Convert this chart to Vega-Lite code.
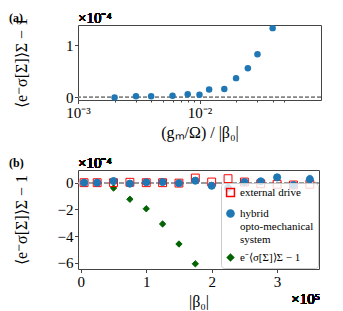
{
  "$schema": "https://vega.github.io/schema/vega-lite/v6.json",
  "background": "white",
  "padding": {"left": 8, "top": 10, "right": 0, "bottom": 0},
  "spacing": 70,
  "bounds": "flush",
  "resolve": {"legend": {"shape": "independent", "fill": "independent", "stroke": "independent", "size": "independent"}},
  "config": {
    "font": "Liberation Serif",
    "view": {"stroke": "#444", "strokeWidth": 1},
    "text": {"font": "Liberation Serif", "fontWeight": "normal"},
    "axis": {"domain": false, "grid": false, "tickColor": "#444", "tickSize": 3.5, "labelFont": "Liberation Serif", "labelFontSize": 15, "labelColor": "black", "labelPadding": 1.5, "titleFont": "Liberation Serif", "titleFontWeight": "normal", "titleColor": "black", "titleFontSize": 16},
    "title": {"font": "Liberation Serif", "fontSize": 12, "fontWeight": "bold", "anchor": "start", "frame": "group", "color": "black"},
    "legend": {"orient": "bottom-right", "offset": 1, "padding": 4, "strokeColor": "#ccc", "fillColor": "rgba(255,255,255,0.8)", "cornerRadius": 3, "labelFont": "Liberation Serif", "labelFontSize": 11, "labelLineHeight": 12, "labelLimit": 200, "rowPadding": 6, "labelOffset": 4, "labelColor": "black"}
  },
  "vconcat": [
    {
      "width": 243,
      "height": 75,
      "title": {"text": "(a)", "dx": -69, "dy": 18, "offset": 4},
      "data": {"values": [
        {"ratio": 0.002, "y": 0.0},
        {"ratio": 0.003, "y": 0.02},
        {"ratio": 0.004, "y": 0.02},
        {"ratio": 0.006, "y": 0.03},
        {"ratio": 0.008, "y": 0.06},
        {"ratio": 0.010, "y": 0.05},
        {"ratio": 0.012, "y": 0.15},
        {"ratio": 0.016, "y": 0.16},
        {"ratio": 0.020, "y": 0.37},
        {"ratio": 0.025, "y": 0.56},
        {"ratio": 0.030, "y": 0.83},
        {"ratio": 0.040, "y": 1.33}
      ]},
      "layer": [
        {
          "mark": {"type": "rule", "color": "#888", "strokeDash": [4, 2], "strokeWidth": 1},
          "encoding": {"y": {"datum": 0, "type": "quantitative"}}
        },
        {
          "mark": {"type": "point", "filled": true, "size": 42, "color": "#1f77b4", "opacity": 1},
          "encoding": {
            "x": {"field": "ratio", "type": "quantitative", "scale": {"type": "log", "domain": [0.001, 0.0515]},
              "axis": {"values": [0.001, 0.002, 0.003, 0.004, 0.005, 0.006, 0.007, 0.008, 0.009, 0.01, 0.02, 0.03, 0.04, 0.05],
                "labelExpr": "datum.value == 0.001 ? '10⁻³' : datum.value == 0.01 ? '10⁻²' : ''",
                "tickSize": {"condition": {"test": "datum.value == 0.001 || datum.value == 0.01", "value": 3.5}, "value": 2},
                "labelFlush": false, "labelOverlap": false},
              "title": "(gₘ/Ω) / |β₀|"},
            "y": {"field": "y", "type": "quantitative", "scale": {"domain": [-0.05, 1.39], "nice": false, "zero": false},
              "axis": {"values": [0, 1], "titleX": -52, "titleBaseline": "alphabetic"},
              "title": "⟨e⁻σ[Σ]⟩Σ − 1"}
          }
        },
        {
          "mark": {"type": "text", "text": "×10⁻⁴", "align": "left", "baseline": "alphabetic", "dy": -2, "fontSize": 15, "font": "Liberation Serif", "fontWeight": "normal"},
          "encoding": {"x": {"datum": 0.001}, "y": {"datum": 1.39}}
        }
      ]
    },
    {
      "width": 241,
      "height": 99,
      "title": {"text": "(b)", "dx": -69, "dy": 18, "offset": 4},
      "data": {"values": [
        {"beta": 0.5, "y": -0.4, "series": "e⁻⟨σ[Σ]⟩Σ − 1"},
        {"beta": 0.75, "y": -1.24, "series": "e⁻⟨σ[Σ]⟩Σ − 1"},
        {"beta": 1.0, "y": -1.95, "series": "e⁻⟨σ[Σ]⟩Σ − 1"},
        {"beta": 1.25, "y": -3.09, "series": "e⁻⟨σ[Σ]⟩Σ − 1"},
        {"beta": 1.5, "y": -4.59, "series": "e⁻⟨σ[Σ]⟩Σ − 1"},
        {"beta": 1.75, "y": -6.07, "series": "e⁻⟨σ[Σ]⟩Σ − 1"},
        {"beta": 0.05, "y": 0.0, "series": "external drive"},
        {"beta": 0.25, "y": 0.0, "series": "external drive"},
        {"beta": 0.5, "y": 0.0, "series": "external drive"},
        {"beta": 0.75, "y": 0.03, "series": "external drive"},
        {"beta": 1.0, "y": 0.0, "series": "external drive"},
        {"beta": 1.25, "y": 0.0, "series": "external drive"},
        {"beta": 1.5, "y": -0.03, "series": "external drive"},
        {"beta": 1.75, "y": 0.35, "series": "external drive"},
        {"beta": 2.0, "y": 0.05, "series": "external drive"},
        {"beta": 2.25, "y": 0.3, "series": "external drive"},
        {"beta": 2.5, "y": 0.05, "series": "external drive"},
        {"beta": 2.75, "y": -0.08, "series": "external drive"},
        {"beta": 3.0, "y": -0.12, "series": "external drive"},
        {"beta": 3.25, "y": -0.17, "series": "external drive"},
        {"beta": 3.5, "y": -0.12, "series": "external drive"},
        {"beta": 0.05, "y": 0.0, "err": 0.03, "series": "hybrid opto-mechanical system"},
        {"beta": 0.25, "y": 0.0, "err": 0.03, "series": "hybrid opto-mechanical system"},
        {"beta": 0.5, "y": 0.12, "err": 0.05, "series": "hybrid opto-mechanical system"},
        {"beta": 0.75, "y": -0.07, "err": 0.05, "series": "hybrid opto-mechanical system"},
        {"beta": 1.0, "y": 0.03, "err": 0.05, "series": "hybrid opto-mechanical system"},
        {"beta": 1.25, "y": 0.05, "err": 0.05, "series": "hybrid opto-mechanical system"},
        {"beta": 1.5, "y": -0.04, "err": 0.05, "series": "hybrid opto-mechanical system"},
        {"beta": 1.75, "y": 0.15, "err": 0.07, "series": "hybrid opto-mechanical system"},
        {"beta": 2.0, "y": -0.23, "err": 0.07, "series": "hybrid opto-mechanical system"},
        {"beta": 2.25, "y": -0.4, "err": 0.1, "series": "hybrid opto-mechanical system"},
        {"beta": 2.5, "y": 0.05, "err": 0.1, "series": "hybrid opto-mechanical system"},
        {"beta": 2.75, "y": 0.1, "err": 0.2, "series": "hybrid opto-mechanical system"},
        {"beta": 3.0, "y": 0.4, "err": 0.2, "series": "hybrid opto-mechanical system"},
        {"beta": 3.25, "y": -0.18, "err": 0.2, "series": "hybrid opto-mechanical system"},
        {"beta": 3.5, "y": 0.25, "err": 0.3, "series": "hybrid opto-mechanical system"}
      ]},
      "encoding": {
        "x": {"field": "beta", "type": "quantitative", "scale": {"domain": [-0.043, 3.64], "nice": false, "zero": false},
          "axis": {"values": [0, 1, 2, 3]}, "title": "|β₀|"},
        "y": {"field": "y", "type": "quantitative", "scale": {"domain": [-6.46, 0.95], "nice": false, "zero": false},
          "axis": {"values": [0, -2, -4, -6], "titleX": -52, "titleBaseline": "alphabetic"},
          "title": "⟨e⁻σ[Σ]⟩Σ − 1"}
      },
      "layer": [
        {
          "mark": {"type": "rule", "color": "#999", "strokeDash": [5, 2.5], "strokeWidth": 1.5},
          "encoding": {"y": {"datum": 0, "type": "quantitative"}, "x": null}
        },
        {
          "transform": [{"filter": "datum.series == 'hybrid opto-mechanical system'"}],
          "mark": {"type": "errorbar", "color": "#1f77b4", "thickness": 1, "ticks": {"size": 4, "thickness": 1, "color": "#1f77b4"}},
          "encoding": {"yError": {"field": "err"}}
        },
        {
          "mark": {"type": "point", "opacity": 1, "strokeWidth": 1},
          "encoding": {
            "shape": {"field": "series", "type": "nominal", "scale": {"domain": ["external drive", "hybrid opto-mechanical system", "e⁻⟨σ[Σ]⟩Σ − 1"], "range": ["square", "circle", "diamond"]},
              "legend": {"title": null, "labelExpr": "datum.label == 'hybrid opto-mechanical system' ? ['hybrid', 'opto-mechanical', 'system'] : datum.label"}},
            "fill": {"field": "series", "type": "nominal", "scale": {"domain": ["external drive", "hybrid opto-mechanical system", "e⁻⟨σ[Σ]⟩Σ − 1"], "range": ["transparent", "#1f77b4", "#006400"]},
              "legend": {"title": null, "labelExpr": "datum.label == 'hybrid opto-mechanical system' ? ['hybrid', 'opto-mechanical', 'system'] : datum.label"}},
            "stroke": {"field": "series", "type": "nominal", "scale": {"domain": ["external drive", "hybrid opto-mechanical system", "e⁻⟨σ[Σ]⟩Σ − 1"], "range": ["red", "#1f77b4", "#006400"]},
              "legend": {"title": null, "labelExpr": "datum.label == 'hybrid opto-mechanical system' ? ['hybrid', 'opto-mechanical', 'system'] : datum.label"}},
            "size": {"field": "series", "type": "nominal", "scale": {"domain": ["external drive", "hybrid opto-mechanical system", "e⁻⟨σ[Σ]⟩Σ − 1"], "range": [62, 40, 22]},
              "legend": {"title": null, "labelExpr": "datum.label == 'hybrid opto-mechanical system' ? ['hybrid', 'opto-mechanical', 'system'] : datum.label"}}
          }
        },
        {
          "mark": {"type": "text", "text": "×10⁻⁴", "align": "left", "baseline": "alphabetic", "dy": -2, "fontSize": 15, "font": "Liberation Serif", "fontWeight": "normal"},
          "encoding": {"x": {"datum": -0.043}, "y": {"datum": 0.95}}
        },
        {
          "mark": {"type": "text", "text": "×10⁵", "align": "right", "baseline": "alphabetic", "dy": 35, "dx": 1, "fontSize": 15, "font": "Liberation Serif", "fontWeight": "normal"},
          "encoding": {"x": {"datum": 3.64}, "y": {"datum": -6.46}}
        }
      ]
    }
  ]
}
